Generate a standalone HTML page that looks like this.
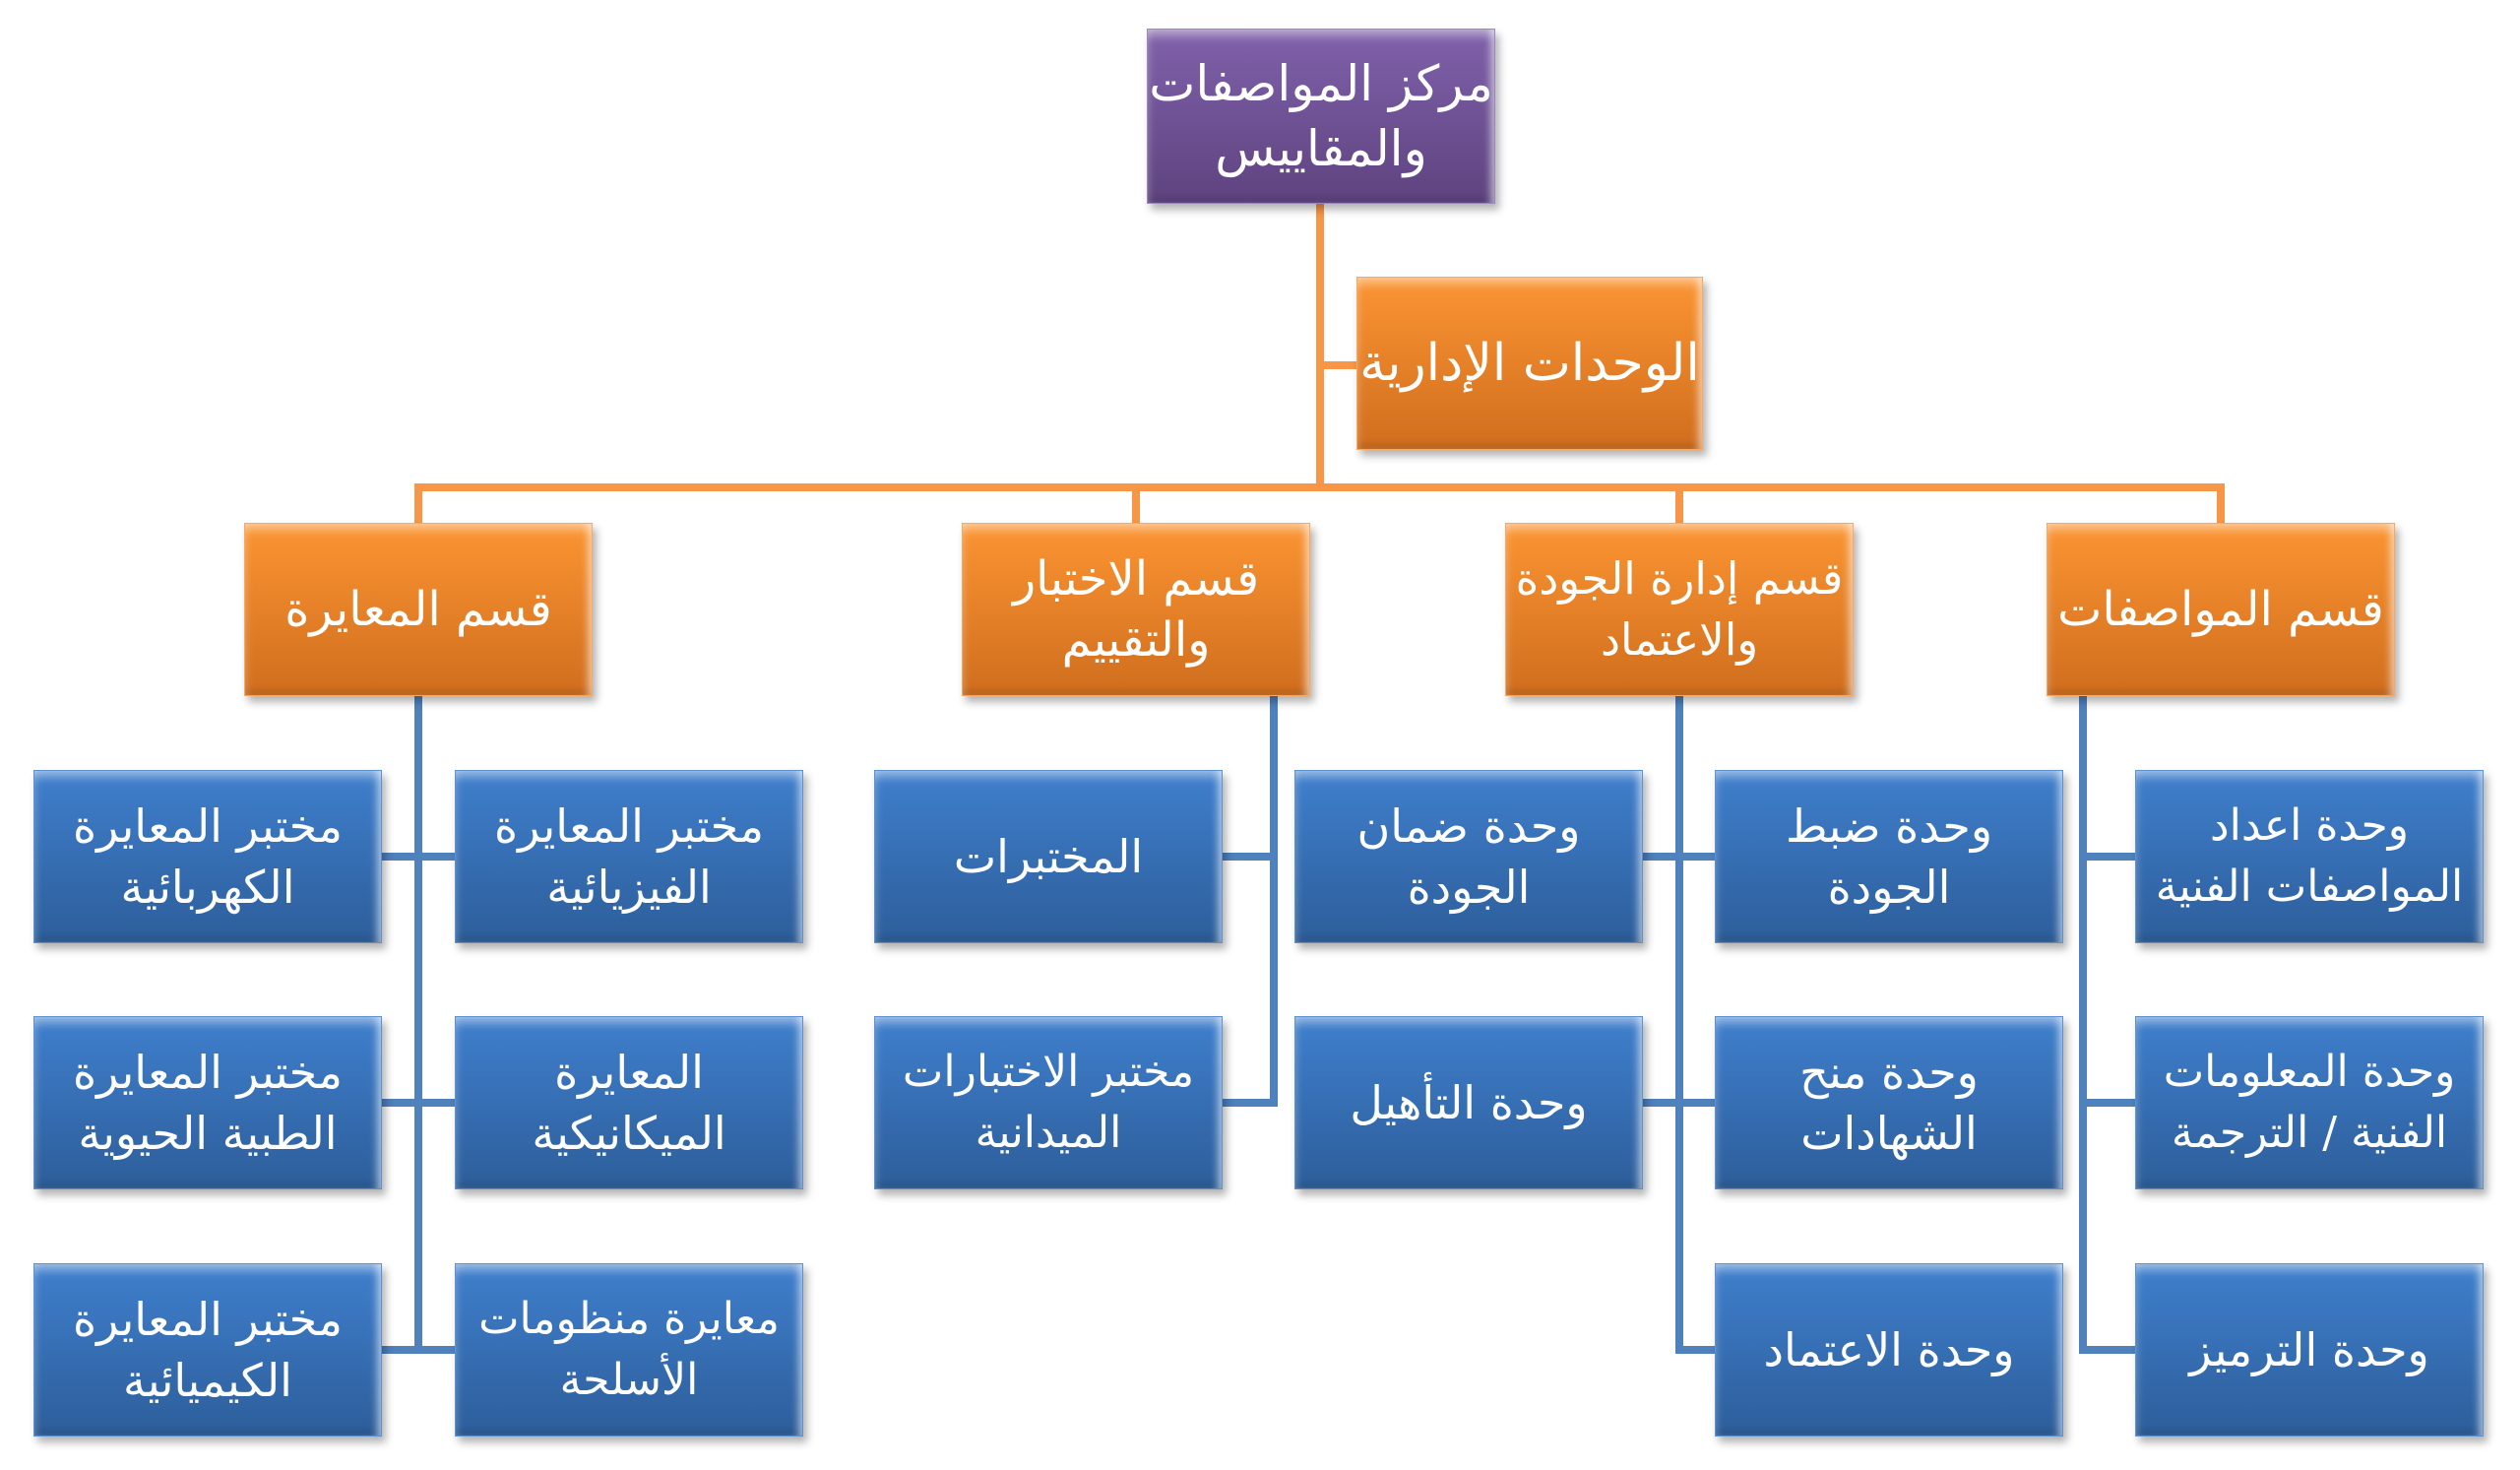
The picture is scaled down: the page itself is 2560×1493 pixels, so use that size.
<!DOCTYPE html>
<html><head><meta charset="utf-8"><style>
html,body{margin:0;padding:0;background:#fff;}
body{width:2560px;height:1493px;position:relative;overflow:hidden;font-family:"DejaVu Sans","Liberation Sans",sans-serif;}
.l{position:absolute;}
.o{background:#f79646;}
.b{background:#4f81bd;}
.box{position:absolute;display:flex;align-items:center;justify-content:center;text-align:center;color:#fff;direction:rtl;box-sizing:border-box;line-height:62px;font-size:46px;white-space:nowrap;
box-shadow:4px 6px 8px rgba(0,0,0,0.3), inset 0 12px 10px -6px rgba(255,255,255,0.45), inset -8px 0 8px -4px rgba(255,255,255,0.55), inset 8px 0 8px -6px rgba(255,255,255,0.2), inset 0 -10px 8px -6px rgba(0,0,0,0.15);}
.box span{display:inline-block;}
.p{background:linear-gradient(#8061ab,#5e437f);border:1px solid #9b86c0;}
.or{background:linear-gradient(#fb9432,#d06e1e);border:1px solid #f9a860;font-size:48px;}
.bl{background:linear-gradient(#3f7fcd,#2d5e9a);border:1px solid #5d92d2;}
</style></head><body>
<div class="l o" style="left:1337px;top:207px;width:8px;height:292px"></div>
<div class="l o" style="left:1341px;top:367px;width:40px;height:8px"></div>
<div class="l o" style="left:421px;top:491px;width:1839px;height:8px"></div>
<div class="l o" style="left:421px;top:491px;width:8px;height:42px"></div>
<div class="l o" style="left:1150px;top:491px;width:8px;height:42px"></div>
<div class="l o" style="left:1702px;top:491px;width:8px;height:42px"></div>
<div class="l o" style="left:2252px;top:491px;width:8px;height:42px"></div>
<div class="l b" style="left:421px;top:707px;width:8px;height:668px"></div>
<div class="l b" style="left:386px;top:866px;width:78px;height:8px"></div>
<div class="l b" style="left:386px;top:1116px;width:78px;height:8px"></div>
<div class="l b" style="left:386px;top:1367px;width:78px;height:8px"></div>
<div class="l b" style="left:1290px;top:707px;width:8px;height:417px"></div>
<div class="l b" style="left:1240px;top:866px;width:58px;height:8px"></div>
<div class="l b" style="left:1240px;top:1116px;width:58px;height:8px"></div>
<div class="l b" style="left:1702px;top:707px;width:8px;height:668px"></div>
<div class="l b" style="left:1666px;top:866px;width:78px;height:8px"></div>
<div class="l b" style="left:1666px;top:1116px;width:78px;height:8px"></div>
<div class="l b" style="left:1702px;top:1367px;width:42px;height:8px"></div>
<div class="l b" style="left:2112px;top:707px;width:8px;height:668px"></div>
<div class="l b" style="left:2112px;top:866px;width:58px;height:8px"></div>
<div class="l b" style="left:2112px;top:1116px;width:58px;height:8px"></div>
<div class="l b" style="left:2112px;top:1367px;width:58px;height:8px"></div>

<div class="box p" style="left:1165px;top:29px;width:354px;height:178px;font-size:50px;line-height:66px"><span>مركز المواصفات<br>والمقاييس</span></div>
<div class="box or" style="left:1378px;top:281px;width:352px;height:176px;font-size:52px">الوحدات الإدارية</div>

<div class="box or" style="left:248px;top:531px;width:354px;height:176px">قسم المعايرة</div>
<div class="box or" style="left:977px;top:531px;width:354px;height:176px"><span>قسم الاختبار<br>والتقييم</span></div>
<div class="box or" style="left:1529px;top:531px;width:354px;height:176px;font-size:45px"><span>قسم إدارة الجودة<br>والاعتماد</span></div>
<div class="box or" style="left:2079px;top:531px;width:354px;height:176px">قسم المواصفات</div>

<div class="box bl" style="left:34px;top:782px;width:354px;height:176px"><span>مختبر المعايرة<br>الكهربائية</span></div>
<div class="box bl" style="left:462px;top:782px;width:354px;height:176px"><span>مختبر المعايرة<br>الفيزيائية</span></div>
<div class="box bl" style="left:34px;top:1032px;width:354px;height:176px"><span>مختبر المعايرة<br>الطبية الحيوية</span></div>
<div class="box bl" style="left:462px;top:1032px;width:354px;height:176px"><span>المعايرة<br>الميكانيكية</span></div>
<div class="box bl" style="left:34px;top:1283px;width:354px;height:176px"><span>مختبر المعايرة<br>الكيميائية</span></div>
<div class="box bl" style="left:462px;top:1283px;width:354px;height:176px;font-size:44px"><span>معايرة منظومات<br>الأسلحة</span></div>

<div class="box bl" style="left:888px;top:782px;width:354px;height:176px">المختبرات</div>
<div class="box bl" style="left:888px;top:1032px;width:354px;height:176px;font-size:44px"><span>مختبر الاختبارات<br>الميدانية</span></div>

<div class="box bl" style="left:1315px;top:782px;width:354px;height:176px"><span>وحدة ضمان<br>الجودة</span></div>
<div class="box bl" style="left:1742px;top:782px;width:354px;height:176px"><span>وحدة ضبط<br>الجودة</span></div>
<div class="box bl" style="left:1315px;top:1032px;width:354px;height:176px">وحدة التأهيل</div>
<div class="box bl" style="left:1742px;top:1032px;width:354px;height:176px"><span>وحدة منح<br>الشهادات</span></div>
<div class="box bl" style="left:1742px;top:1283px;width:354px;height:176px">وحدة الاعتماد</div>

<div class="box bl" style="left:2169px;top:782px;width:354px;height:176px;font-size:44px"><span>وحدة اعداد<br>المواصفات الفنية</span></div>
<div class="box bl" style="left:2169px;top:1032px;width:354px;height:176px;font-size:44px"><span>وحدة المعلومات<br>الفنية / الترجمة</span></div>
<div class="box bl" style="left:2169px;top:1283px;width:354px;height:176px">وحدة الترميز</div>
</body></html>
